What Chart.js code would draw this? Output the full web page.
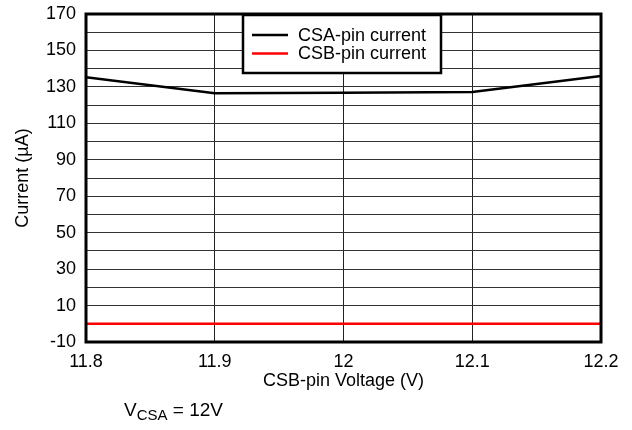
<!DOCTYPE html>
<html>
<head>
<meta charset="utf-8">
<script src="https://cdn.jsdelivr.net/npm/chart.js@4.4.0/dist/chart.umd.min.js"></script>
<style>
  body { margin: 0; background: #fff; }
  #wrap { position: relative; width: 632px; height: 430px; }
  #note {
    position: absolute; left: 124px; top: 399px;
    font-family: 'Liberation Sans', Arial, sans-serif; font-size: 19px; color: #000;
  }
  #note sub { font-size: 15px; vertical-align: -4px; }
</style>
</head>
<body>
<div id="wrap">
  <canvas id="myChart" width="632" height="430"></canvas>
  <div id="note">V<sub>CSA</sub> = 12V</div>
</div>
<script>
'use strict';

const voltages = [11.8, 11.9, 12.0, 12.1, 12.2];
const csaCurrent = [135.3, 126.5, 126.8, 127.2, 136];
const csbCurrent = [0, 0, 0, 0, 0];
const seriesNames = ['CSA-pin current', 'CSB-pin current'];
const seriesColors = ['#000000', '#ff0000'];
const yLabelTicks = [-10, 10, 30, 50, 70, 90, 110, 130, 150, 170];

const fontName = "'Liberation Sans', Arial, sans-serif";

function toPoints(values) {
  return voltages.map(function(v, i) { return { x: v, y: values[i] }; });
}

// frame round the plot + boxed legend in the upper middle
const framePlugin = {
  id: 'frame',
  afterDraw(chart) {
    const ctx = chart.ctx;
    const a = chart.chartArea;
    ctx.save();
    ctx.strokeStyle = '#000';
    ctx.lineWidth = 3;
    ctx.strokeRect(a.left, a.top, a.right - a.left, a.bottom - a.top);

    // legend box
    const bx = 243, by = 15, bw = 198, bh = 58;
    ctx.fillStyle = '#fff';
    ctx.fillRect(bx, by, bw, bh);
    ctx.lineWidth = 2.5;
    ctx.strokeRect(bx, by, bw, bh);
    ctx.font = '18px ' + fontName;
    ctx.textBaseline = 'middle';
    for (let i = 0; i < seriesNames.length; i++) {
      const ly = by + 20 + i * 18.5;
      ctx.strokeStyle = seriesColors[i];
      ctx.lineWidth = 2.5;
      ctx.beginPath();
      ctx.moveTo(bx + 9, ly);
      ctx.lineTo(bx + 45, ly);
      ctx.stroke();
      ctx.fillStyle = '#000';
      ctx.fillText(seriesNames[i], bx + 55, ly + 1);
    }
    ctx.restore();
  }
};

const ctx = document.getElementById('myChart').getContext('2d');
const myChart = new Chart(ctx, {
  type: 'line',
  data: {
    datasets: [
      {
        label: seriesNames[0],
        data: toPoints(csaCurrent),
        borderColor: seriesColors[0],
        borderWidth: 2.5,
        pointRadius: 0,
        tension: 0
      },
      {
        label: seriesNames[1],
        data: toPoints(csbCurrent),
        borderColor: seriesColors[1],
        borderWidth: 2.5,
        pointRadius: 0,
        tension: 0
      }
    ]
  },
  options: {
    responsive: false,
    animation: false,
    layout: { padding: { left: 0, top: 14, right: 31, bottom: 38 } },
    plugins: {
      legend: { display: false },
      tooltip: { enabled: false }
    },
    scales: {
      x: {
        type: 'linear',
        min: voltages[0],
        max: voltages[voltages.length - 1],
        ticks: {
          stepSize: 0.1,
          color: '#000',
          padding: 9,
          maxRotation: 0,
          autoSkip: false,
          font: { family: fontName, size: 18 },
          callback: function(v) { return String(Number(v.toFixed(1))); }
        },
        grid: { color: '#222', lineWidth: 1, drawTicks: false },
        border: { display: false },
        title: {
          display: true,
          text: 'CSB-pin Voltage (V)',
          color: '#000',
          padding: { top: 0, bottom: 0 },
          font: { family: fontName, size: 18 }
        },
        afterFit: function(scale) { scale.height = 50; }
      },
      y: {
        min: -10,
        max: 170,
        ticks: {
          stepSize: 10,
          color: '#000',
          padding: 10,
          autoSkip: false,
          // small line height so the top label does not push the plot down
          font: { family: fontName, size: 18, lineHeight: 0.4 },
          callback: function(v) { return yLabelTicks.includes(v) ? String(v) : ''; }
        },
        grid: { color: '#333', lineWidth: 1, drawTicks: false },
        border: { display: false },
        title: {
          display: true,
          text: 'Current (\u00b5A)',
          color: '#000',
          padding: { top: 12, bottom: 0 },
          font: { family: fontName, size: 18 }
        },
        afterFit: function(scale) { scale.width = 86; }
      }
    }
  },
  plugins: [framePlugin]
});
</script>
</body>
</html>
